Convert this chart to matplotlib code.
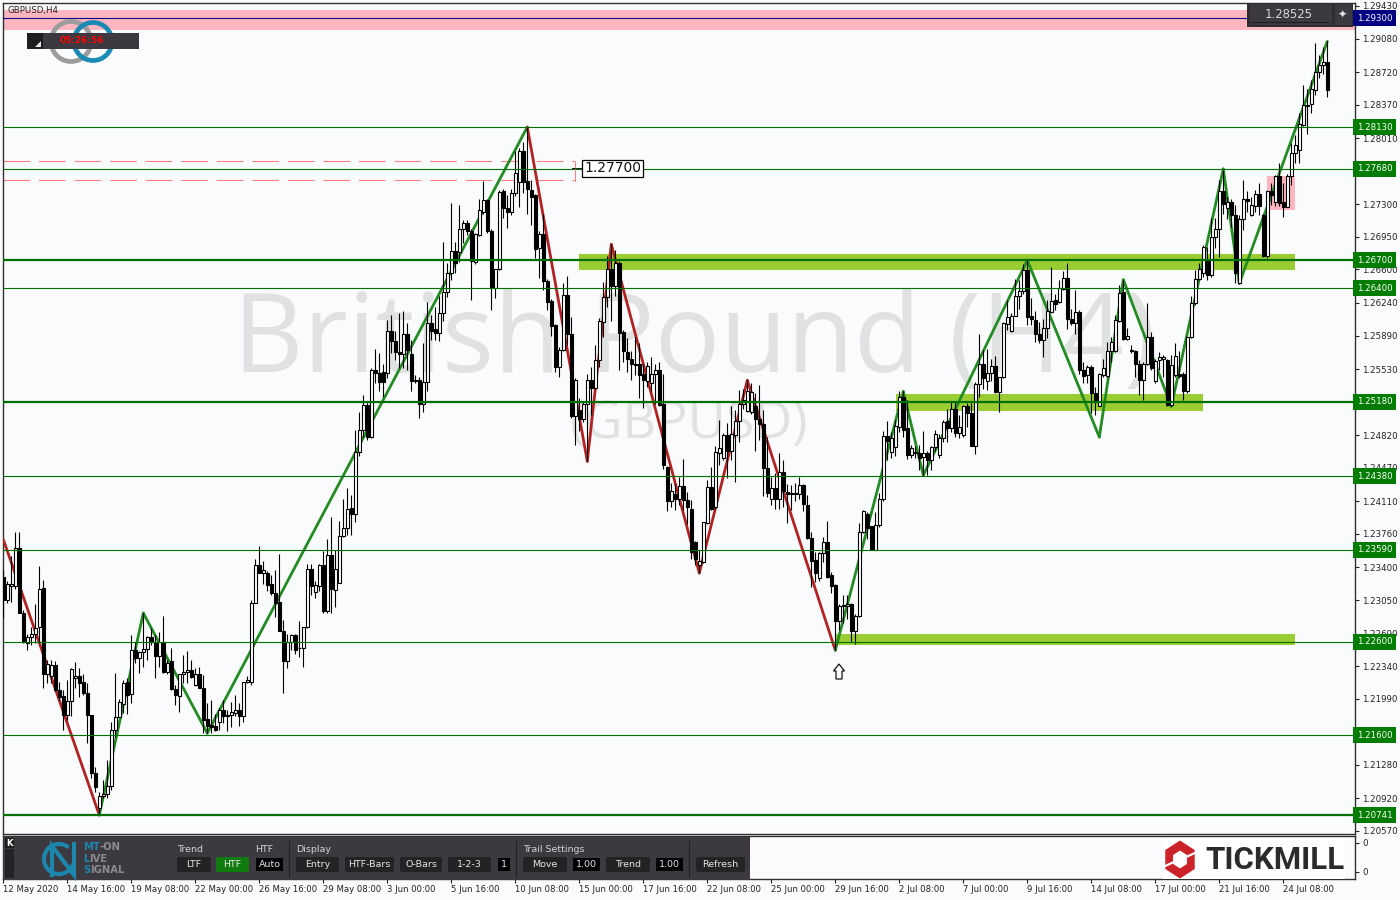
import matplotlib
matplotlib.use("Agg")
import matplotlib.pyplot as plt
from matplotlib.patches import Rectangle, FancyBboxPatch, Polygon, Arc
import numpy as np

# GBPUSD H4 candles
opens = [
    1.2330,1.2305,1.2320,1.2320,1.2361,1.2291,1.2259,1.2265,1.2269,1.2276,
    1.2318,1.2226,1.2223,1.2235,1.2208,1.2202,1.2182,1.2197,1.2221,1.2223,
    1.2217,1.2205,1.2181,1.2119,1.2082,1.2094,1.2097,1.2105,1.2165,1.2179,
    1.2193,1.2217,1.2204,1.2251,1.2243,1.2249,1.2252,1.2265,1.2260,1.2245,
    1.2259,1.2228,1.2239,1.2209,1.2202,1.2226,1.2228,1.2230,1.2214,1.2226,
    1.2211,1.2177,1.2171,1.2170,1.2174,1.2187,1.2180,1.2182,1.2184,1.2187,
    1.2180,1.2217,1.2217,1.2302,1.2343,1.2334,1.2334,1.2322,1.2312,1.2303,
    1.2272,1.2239,1.2260,1.2267,1.2254,1.2254,1.2276,1.2338,1.2314,1.2320,
    1.2343,1.2293,1.2353,1.2316,1.2323,1.2374,1.2382,1.2404,1.2397,1.2464,
    1.2488,1.2514,1.2480,1.2552,1.2549,1.2550,1.2549,1.2594,1.2583,1.2571,
    1.2569,1.2591,1.2569,1.2540,1.2541,1.2516,1.2539,1.2602,1.2596,1.2592,
    1.2613,1.2636,1.2656,1.2680,1.2679,1.2703,1.2710,1.2701,1.2668,1.2697,
    1.2722,1.2735,1.2701,1.2640,1.2660,1.2744,1.2726,1.2722,1.2742,1.2754,
    1.2787,1.2755,1.2745,1.2740,1.2683,1.2698,1.2648,1.2626,1.2600,1.2555,
    1.2573,1.2633,1.2591,1.2503,1.2509,1.2499,1.2516,1.2541,1.2533,1.2563,
    1.2604,1.2630,1.2661,1.2642,1.2667,1.2593,1.2571,1.2564,1.2558,1.2558,
    1.2548,1.2540,1.2538,1.2548,1.2552,1.2515,1.2448,1.2411,1.2419,1.2413,
    1.2427,1.2412,1.2403,1.2367,1.2343,1.2346,1.2388,1.2426,1.2405,1.2463,
    1.2458,1.2482,1.2465,1.2482,1.2497,1.2516,1.2508,1.2507,1.2513,1.2499,
    1.2494,1.2447,1.2414,1.2425,1.2414,1.2443,1.2421,1.2420,1.2420,1.2419,
    1.2429,1.2407,1.2372,1.2348,1.2329,1.2355,1.2367,1.2332,1.2321,1.2282,
    1.2299,1.2299,1.2301,1.2272,1.2288,1.2378,1.2397,1.2384,1.2359,1.2386,
    1.2414,1.2481,1.2464,1.2469,1.2491,1.2523,1.2490,1.2461,1.2464,1.2463,
    1.2459,1.2463,1.2455,1.2469,1.2461,1.2479,1.2497,1.2490,1.2510,1.2484,
    1.2482,1.2513,1.2506,1.2470,1.2537,1.2559,1.2540,1.2549,1.2556,1.2528,
    1.2544,1.2601,1.2594,1.2610,1.2631,1.2637,1.2659,1.2610,1.2606,1.2591,
    1.2584,1.2597,1.2614,1.2627,1.2625,1.2639,1.2651,1.2607,1.2602,1.2614,
    1.2552,1.2547,1.2555,1.2527,1.2513,1.2547,1.2546,1.2572,1.2572,1.2605,
    1.2636,1.2585,1.2573,1.2572,1.2558,1.2541,1.2559,1.2587,1.2540,1.2563,
    1.2564,1.2563,1.2514,1.2547,1.2548,1.2548,1.2530,1.2587,1.2624,1.2650,
    1.2656,1.2670,1.2654,1.2695,1.2704,1.2744,1.2726,1.2733,1.2719,1.2646,
    1.2714,1.2736,1.2719,1.2728,1.2741,1.2719,1.2674,1.2744,1.2732,1.2760,
    1.2733,1.2727,1.2760,1.2785,1.2788,1.2815,1.2837,1.2838,1.2853,1.2872,1.2880,1.2883,
]
closes = [
    1.2305,1.2322,1.2322,1.2361,1.2291,1.2260,1.2265,1.2269,1.2275,1.2317,
    1.2226,1.2236,1.2235,1.2208,1.2201,1.2181,1.2197,1.2231,1.2223,1.2216,
    1.2205,1.2181,1.2119,1.2104,1.2094,1.2097,1.2105,1.2165,1.2179,1.2195,
    1.2216,1.2203,1.2251,1.2243,1.2249,1.2252,1.2265,1.2260,1.2245,1.2260,
    1.2228,1.2237,1.2209,1.2203,1.2226,1.2228,1.2230,1.2222,1.2226,1.2211,
    1.2176,1.2170,1.2169,1.2165,1.2187,1.2180,1.2182,1.2185,1.2187,1.2180,
    1.2217,1.2219,1.2302,1.2343,1.2334,1.2337,1.2321,1.2312,1.2302,1.2272,
    1.2239,1.2260,1.2267,1.2251,1.2253,1.2276,1.2338,1.2320,1.2321,1.2343,
    1.2293,1.2353,1.2317,1.2338,1.2374,1.2382,1.2403,1.2397,1.2464,1.2488,
    1.2514,1.2480,1.2552,1.2549,1.2539,1.2539,1.2594,1.2583,1.2571,1.2569,
    1.2591,1.2574,1.2540,1.2541,1.2516,1.2539,1.2602,1.2594,1.2592,1.2613,
    1.2636,1.2656,1.2680,1.2667,1.2703,1.2710,1.2701,1.2669,1.2698,1.2724,
    1.2735,1.2701,1.2640,1.2661,1.2743,1.2726,1.2722,1.2742,1.2764,1.2787,
    1.2754,1.2746,1.2738,1.2682,1.2698,1.2648,1.2625,1.2599,1.2555,1.2574,
    1.2633,1.2591,1.2503,1.2541,1.2499,1.2516,1.2541,1.2533,1.2563,1.2605,
    1.2630,1.2661,1.2642,1.2667,1.2592,1.2572,1.2564,1.2558,1.2557,1.2547,
    1.2541,1.2556,1.2548,1.2552,1.2514,1.2450,1.2411,1.2422,1.2413,1.2427,
    1.2412,1.2405,1.2357,1.2349,1.2347,1.2389,1.2426,1.2403,1.2464,1.2468,
    1.2482,1.2465,1.2483,1.2497,1.2516,1.2520,1.2529,1.2528,1.2499,1.2494,
    1.2447,1.2420,1.2425,1.2414,1.2443,1.2422,1.2419,1.2419,1.2419,1.2429,
    1.2408,1.2372,1.2347,1.2334,1.2355,1.2367,1.2330,1.2320,1.2282,1.2299,
    1.2300,1.2301,1.2272,1.2288,1.2378,1.2401,1.2382,1.2359,1.2386,1.2413,
    1.2481,1.2476,1.2479,1.2492,1.2523,1.2488,1.2461,1.2468,1.2463,1.2458,
    1.2463,1.2455,1.2469,1.2483,1.2479,1.2496,1.2490,1.2510,1.2484,1.2491,
    1.2513,1.2506,1.2470,1.2537,1.2559,1.2543,1.2549,1.2556,1.2528,1.2544,
    1.2602,1.2609,1.2610,1.2631,1.2637,1.2659,1.2609,1.2607,1.2591,1.2584,
    1.2597,1.2615,1.2626,1.2623,1.2640,1.2651,1.2607,1.2603,1.2614,1.2552,
    1.2546,1.2555,1.2527,1.2518,1.2548,1.2554,1.2572,1.2582,1.2606,1.2635,
    1.2585,1.2589,1.2572,1.2558,1.2541,1.2559,1.2587,1.2554,1.2562,1.2566,
    1.2566,1.2514,1.2557,1.2567,1.2546,1.2529,1.2587,1.2624,1.2650,1.2661,
    1.2684,1.2654,1.2695,1.2704,1.2744,1.2730,1.2733,1.2719,1.2656,1.2714,
    1.2736,1.2734,1.2729,1.2741,1.2728,1.2674,1.2744,1.2740,1.2760,1.2731,
    1.2727,1.2760,1.2785,1.2794,1.2816,1.2837,1.2836,1.2854,1.2872,1.2880,1.2883,1.2853,
]
highs = [
    1.2337,1.2325,1.2352,1.2378,1.2378,1.2294,1.2269,1.2276,1.2301,1.2341,
    1.2327,1.2241,1.2241,1.2239,1.2217,1.2208,1.2219,1.2232,1.2238,1.2232,
    1.2226,1.2216,1.2182,1.2126,1.2099,1.2112,1.2133,1.2174,1.2227,1.2199,
    1.2219,1.2221,1.2267,1.2260,1.2250,1.2291,1.2266,1.2275,1.2267,1.2271,
    1.2288,1.2241,1.2253,1.2214,1.2226,1.2246,1.2250,1.2241,1.2232,1.2233,
    1.2225,1.2194,1.2198,1.2183,1.2189,1.2198,1.2187,1.2196,1.2203,1.2194,
    1.2217,1.2223,1.2305,1.2349,1.2363,1.2347,1.2336,1.2332,1.2337,1.2354,
    1.2284,1.2269,1.2269,1.2269,1.2282,1.2276,1.2344,1.2344,1.2325,1.2344,
    1.2358,1.2370,1.2394,1.2359,1.2390,1.2414,1.2425,1.2418,1.2488,1.2507,
    1.2525,1.2518,1.2554,1.2575,1.2570,1.2558,1.2606,1.2611,1.2594,1.2613,
    1.2615,1.2602,1.2584,1.2547,1.2545,1.2581,1.2625,1.2611,1.2620,1.2631,
    1.2690,1.2667,1.2731,1.2690,1.2729,1.2713,1.2713,1.2704,1.2699,1.2736,
    1.2755,1.2736,1.2703,1.2661,1.2745,1.2746,1.2740,1.2746,1.2787,1.2790,
    1.2797,1.2813,1.2756,1.2741,1.2701,1.2720,1.2650,1.2628,1.2601,1.2577,
    1.2645,1.2653,1.2609,1.2543,1.2522,1.2518,1.2548,1.2555,1.2579,1.2608,
    1.2647,1.2674,1.2687,1.2681,1.2669,1.2595,1.2586,1.2572,1.2588,1.2581,
    1.2559,1.2561,1.2566,1.2559,1.2561,1.2548,1.2449,1.2431,1.2430,1.2437,
    1.2456,1.2421,1.2412,1.2368,1.2359,1.2389,1.2434,1.2448,1.2470,1.2498,
    1.2484,1.2495,1.2513,1.2509,1.2531,1.2532,1.2541,1.2538,1.2527,1.2536,
    1.2509,1.2480,1.2437,1.2441,1.2463,1.2455,1.2430,1.2428,1.2431,1.2437,
    1.2430,1.2418,1.2378,1.2357,1.2357,1.2373,1.2390,1.2335,1.2322,1.2301,
    1.2310,1.2310,1.2302,1.2290,1.2388,1.2402,1.2400,1.2385,1.2400,1.2420,
    1.2487,1.2497,1.2485,1.2498,1.2530,1.2529,1.2520,1.2471,1.2470,1.2471,
    1.2487,1.2465,1.2470,1.2488,1.2483,1.2498,1.2510,1.2518,1.2518,1.2504,
    1.2514,1.2517,1.2517,1.2539,1.2591,1.2574,1.2575,1.2564,1.2567,1.2545,
    1.2604,1.2627,1.2613,1.2650,1.2649,1.2666,1.2670,1.2629,1.2615,1.2604,
    1.2607,1.2627,1.2663,1.2634,1.2649,1.2658,1.2667,1.2618,1.2638,1.2617,
    1.2561,1.2557,1.2557,1.2534,1.2549,1.2564,1.2582,1.2588,1.2611,1.2643,
    1.2649,1.2597,1.2579,1.2573,1.2563,1.2561,1.2624,1.2593,1.2564,1.2571,
    1.2568,1.2564,1.2568,1.2581,1.2572,1.2550,1.2588,1.2631,1.2659,1.2667,
    1.2686,1.2684,1.2715,1.2715,1.2756,1.2767,1.2738,1.2736,1.2729,1.2719,
    1.2756,1.2744,1.2738,1.2745,1.2753,1.2720,1.2745,1.2753,1.2762,1.2774,
    1.2753,1.2763,1.2796,1.2804,1.2828,1.2858,1.2854,1.2864,1.2903,1.2890,1.2899,1.2905,
]
lows = [
    1.2286,1.2302,1.2303,1.2317,1.2291,1.2259,1.2251,1.2257,1.2259,1.2259,
    1.2210,1.2216,1.2216,1.2207,1.2198,1.2165,1.2176,1.2180,1.2210,1.2201,
    1.2203,1.2151,1.2114,1.2099,1.2074,1.2092,1.2092,1.2101,1.2158,1.2180,
    1.2184,1.2183,1.2194,1.2237,1.2227,1.2233,1.2241,1.2257,1.2221,1.2233,
    1.2227,1.2226,1.2208,1.2192,1.2185,1.2216,1.2216,1.2221,1.2213,1.2211,
    1.2162,1.2162,1.2162,1.2164,1.2165,1.2173,1.2164,1.2169,1.2180,1.2170,
    1.2174,1.2216,1.2214,1.2302,1.2334,1.2322,1.2315,1.2310,1.2287,1.2272,
    1.2205,1.2232,1.2251,1.2247,1.2244,1.2233,1.2275,1.2310,1.2307,1.2315,
    1.2291,1.2291,1.2291,1.2297,1.2323,1.2373,1.2375,1.2375,1.2389,1.2460,
    1.2480,1.2477,1.2479,1.2538,1.2529,1.2523,1.2543,1.2570,1.2563,1.2554,
    1.2554,1.2552,1.2529,1.2538,1.2500,1.2507,1.2529,1.2584,1.2584,1.2583,
    1.2605,1.2630,1.2649,1.2656,1.2668,1.2688,1.2697,1.2627,1.2666,1.2696,
    1.2720,1.2699,1.2617,1.2629,1.2659,1.2715,1.2705,1.2719,1.2739,1.2727,
    1.2742,1.2720,1.2708,1.2672,1.2651,1.2638,1.2617,1.2589,1.2550,1.2545,
    1.2572,1.2579,1.2501,1.2472,1.2486,1.2496,1.2454,1.2504,1.2532,1.2555,
    1.2588,1.2620,1.2605,1.2631,1.2552,1.2561,1.2550,1.2541,1.2547,1.2522,
    1.2511,1.2534,1.2530,1.2516,1.2513,1.2446,1.2401,1.2405,1.2402,1.2407,
    1.2402,1.2387,1.2349,1.2343,1.2334,1.2345,1.2387,1.2402,1.2403,1.2450,
    1.2455,1.2436,1.2455,1.2432,1.2475,1.2510,1.2507,1.2505,1.2465,1.2477,
    1.2417,1.2416,1.2407,1.2403,1.2403,1.2405,1.2388,1.2402,1.2411,1.2414,
    1.2401,1.2371,1.2319,1.2324,1.2325,1.2346,1.2329,1.2312,1.2251,1.2273,
    1.2280,1.2285,1.2260,1.2258,1.2287,1.2377,1.2371,1.2359,1.2359,1.2383,
    1.2411,1.2455,1.2458,1.2460,1.2485,1.2480,1.2456,1.2457,1.2457,1.2445,
    1.2439,1.2439,1.2445,1.2465,1.2457,1.2475,1.2475,1.2485,1.2480,1.2479,
    1.2480,1.2491,1.2470,1.2462,1.2523,1.2532,1.2531,1.2540,1.2527,1.2507,
    1.2543,1.2595,1.2593,1.2610,1.2618,1.2634,1.2600,1.2600,1.2582,1.2581,
    1.2566,1.2586,1.2613,1.2616,1.2624,1.2638,1.2596,1.2600,1.2591,1.2548,
    1.2538,1.2538,1.2506,1.2504,1.2513,1.2545,1.2545,1.2561,1.2571,1.2604,
    1.2584,1.2584,1.2570,1.2545,1.2525,1.2520,1.2557,1.2552,1.2538,1.2552,
    1.2545,1.2513,1.2513,1.2545,1.2543,1.2520,1.2527,1.2586,1.2622,1.2649,
    1.2652,1.2649,1.2652,1.2683,1.2673,1.2720,1.2714,1.2706,1.2646,1.2645,
    1.2702,1.2722,1.2717,1.2722,1.2718,1.2673,1.2672,1.2729,1.2728,1.2728,
    1.2716,1.2727,1.2751,1.2774,1.2774,1.2814,1.2806,1.2828,1.2847,1.2866,1.2870,1.2845,
]

# swing line through the pivots
pivot_bars = [0, 24, 35, 51, 131, 146, 152, 174, 186, 208, 225, 230, 256, 274, 280, 292, 305, 309, 331]
pivot_prices = [1.2370, 1.2074, 1.2291, 1.2162, 1.2813, 1.2454, 1.2687, 1.2334, 1.2541, 1.2251,
                1.2529, 1.2439, 1.2670, 1.2480, 1.2649, 1.2513, 1.2768, 1.2645, 1.2905]
pivot_down = [1, 0, 0, 0, 1, 1, 1, 1, 1, 0, 0, 0, 0, 0, 0, 0, 0, 0]

thin_levels = [1.28130, 1.27680, 1.26400, 1.24380, 1.23590, 1.22600, 1.21600]
thick_levels = [1.26700, 1.25180, 1.20741]
tick_prices = [1.29430, 1.29080, 1.28720, 1.28370, 1.28010, 1.27300, 1.26950, 1.26600, 1.26240,
               1.25890, 1.25530, 1.24820, 1.24470, 1.24110, 1.23760, 1.23400, 1.23050, 1.22690,
               1.22340, 1.21990, 1.21280, 1.20920, 1.20570]
time_labels = ["12 May 2020", "14 May 16:00", "19 May 08:00", "22 May 00:00", "26 May 16:00", "29 May 08:00",
               "3 Jun 00:00", "5 Jun 16:00", "10 Jun 08:00", "15 Jun 00:00", "17 Jun 16:00", "22 Jun 08:00",
               "25 Jun 00:00", "29 Jun 16:00", "2 Jul 08:00", "7 Jul 00:00", "9 Jul 16:00", "14 Jul 08:00",
               "17 Jul 00:00", "21 Jul 16:00", "24 Jul 08:00"]
bars_per_label = 16

# (first bar, last bar, low, high)
green_zones = [(143.9, 322.9, 1.26595, 1.26766), (223.2, 300.0, 1.25080, 1.25263), (208.0, 322.9, 1.22567, 1.22685)]
pink_zone = (316.0, 322.9, 1.27239, 1.27604)
resistance_band = (1.29172, 1.29387)
dash_levels = [1.27760, 1.27556]

BG = "#f9fbfd"
PANEL = "#3c3a40"
BTN = "#232325"
FONT = "DejaVu Sans"

opens = np.array(opens)
closes = np.array(closes)
highs = np.array(highs)
lows = np.array(lows)
bars = np.arange(len(opens))

fig = plt.figure(figsize=(14, 9), dpi=100, facecolor=BG)


def box(left, top, right, bottom):
    return [left / 1400, 1 - bottom / 900, (right - left) / 1400, (bottom - top) / 900]


ax = fig.add_axes(box(3, 3, 1355, 834), facecolor=BG)
ax.set_xlim(-0.075, 337.925)
ax.set_ylim(1.20537, 1.29462)

# watermark
ax.text(0.5118, 0.59, "British Pound (H4)", family="Open Sans", fontsize=78.5, color="#e0e2e2",
        ha="center", va="center", zorder=0.5, transform=ax.transAxes)
ax.text(0.5074, 0.4925, "(GBPUSD)", family="Open Sans", fontsize=37.5, color="#e0e2e2",
        ha="center", va="center", zorder=0.5, transform=ax.transAxes)

# zones
ax.axhspan(resistance_band[0], resistance_band[1], color="#ffb6c1", lw=0, zorder=1)
for x0, x1, lo, hi in green_zones:
    ax.add_patch(Rectangle((x0, lo), x1 - x0, hi - lo, fc="#9acd32", ec="none", zorder=1))
ax.add_patch(Rectangle((pink_zone[0], pink_zone[2]), pink_zone[1] - pink_zone[0], pink_zone[3] - pink_zone[2],
                       fc="#ffb6c1", ec="none", zorder=1))

# dashed stop lines
for p in dash_levels:
    ax.plot([-0.075, 143], [p, p], color="#ff8080", lw=0.8, dashes=(24, 8), dash_capstyle="butt", zorder=2)

# swing line
for i, down in enumerate(pivot_down):
    ax.plot(pivot_bars[i:i + 2], pivot_prices[i:i + 2], color="#b22222" if down else "#228b22",
            lw=2.0, solid_capstyle="round", zorder=3)

# candles
ax.vlines(bars, lows, highs, colors="black", lw=0.8, zorder=4)
up = closes >= opens
ax.bar(bars[up], closes[up] - opens[up], bottom=opens[up], width=0.62, fc="white", ec="black",
       lw=0.8, zorder=5)
ax.bar(bars[~up], opens[~up] - closes[~up], bottom=closes[~up], width=0.62, fc="black", ec="black",
       lw=0.8, zorder=5)

# horizontal levels on top of the candles
for p in thin_levels:
    ax.axhline(p, color="#007000", lw=0.8, zorder=6)
for p in thick_levels:
    ax.axhline(p, color="#007000", lw=1.6, zorder=6)
ax.axhline(1.29300, color="#000080", lw=0.8, zorder=6)

# price axis
ax.yaxis.tick_right()
ax.set_yticks(tick_prices)
ax.set_yticklabels(["%.5f" % p for p in tick_prices], fontsize=6.2, family=FONT, color="#222222")
ax.tick_params(axis="y", length=3, width=0.8, pad=2, color="#222222")
ax.set_xticks([])
for s in ax.spines.values():
    s.set_linewidth(1.0)
    s.set_color("#303030")


def price_tag(p, fc):
    ax.text(1.0013, p, "%.5f" % p, transform=ax.get_yaxis_transform(), fontsize=6.2, family=FONT,
            color="white", va="center", ha="left", zorder=10, clip_on=False,
            bbox=dict(boxstyle="square,pad=0.4", fc=fc, ec="none"))


for p in thin_levels + thick_levels:
    price_tag(p, "#007c00")
price_tag(1.29300, "#000080")

# lower indicator window
sub = fig.add_axes(box(3, 836, 1355, 879), facecolor=BG)
sub.set_xlim(-0.075, 337.925)
sub.set_ylim(0, 1)
tick_bars = np.arange(len(time_labels)) * bars_per_label
sub.set_xticks(tick_bars)
sub.set_xticklabels(time_labels, fontsize=6.1, family=FONT, color="#222222", ha="left")
sub.yaxis.tick_right()
sub.set_yticks([0.17, 0.84])
sub.set_yticklabels(["0", "0"], fontsize=6.2, family=FONT, color="#222222")
sub.tick_params(axis="x", length=3, width=0.8, pad=1.5, color="#222222")
sub.tick_params(axis="y", length=3, width=0.8, pad=2, color="#222222")
for s in sub.spines.values():
    s.set_linewidth(1.0)
    s.set_color("#303030")

# overlay in screen pixels for the terminal widgets
ov = fig.add_axes([0, 0, 1, 1], facecolor="none", zorder=20)
ov.set_xlim(0, 1400)
ov.set_ylim(900, 0)
ov.axis("off")

ov.text(7, 10.5, "GBPUSD,H4", fontsize=6.2, family=FONT, color="#222222", va="center")

# rings behind the clock
for cx, r, col in ((71, 20, "#9c9c9c"), (93, 19, "#1a8ab5")):
    ov.add_patch(Arc((cx, 41.5), 2 * r, 2 * r, lw=3.4, color=col))
ov.add_patch(Arc((87, 41.5), 12, 12, lw=2.5, color="#a8a8a8"))
ov.add_patch(Rectangle((27, 33), 112, 16, fc=PANEL, ec="none"))
ov.add_patch(Rectangle((27, 33), 16, 16, fc="#1e1e1e", ec="none"))
ov.add_patch(Polygon([[35, 47], [41, 47], [41, 41]], fc="#e6e6e6", ec="none"))
ov.text(82, 40.5, "05:26:56", fontsize=6.5, family=FONT, color="#ff0000", weight="bold", ha="center", va="center")

# price box top right
ov.add_patch(Rectangle((1247, 3), 106, 24, fc="#2e2d31", ec="none"))
ov.add_patch(Rectangle((1250, 4), 82, 21, fc=PANEL, ec="none"))
ov.add_patch(Rectangle((1335, 4), 17, 21, fc=PANEL, ec="none"))
ov.plot([1251, 1329], [22, 22], color="#1e1e1e", lw=0.8)
ov.text(1289, 14.5, "1.28525", fontsize=8.4, family=FONT, color="#d8d8d8", ha="center", va="center")
ov.text(1342, 14.5, "\u2726", fontsize=8, family=FONT, color="#e6e6e6", ha="center", va="center")

# crosshair label
ov.plot([575, 575], [162, 181], color="#ff8080", lw=0.72)
ov.plot([572, 583], [168, 168], color="#222222", lw=0.72)
ov.text(612.5, 168.5, "1.27700", fontsize=10, family=FONT, color="#111111", ha="center", va="center",
        bbox=dict(boxstyle="square,pad=0.12", fc="white", ec="black", lw=0.9))

# hollow signal arrow
ov.add_patch(Polygon([[839, 664], [844.5, 671], [842, 671], [842, 679], [836, 679], [836, 671], [833.5, 671]],
                     fc="white", ec="#111111", lw=0.9))

# control panel
ov.add_patch(Rectangle((3, 837), 747, 42.5, fc=PANEL, ec="none"))
ov.add_patch(Rectangle((5, 838), 9, 10, fc="#1f1f21", ec="none"))
ov.add_patch(Rectangle((5, 849), 9, 29, fc="#232325", ec="none"))
ov.text(9.5, 843, "K", fontsize=6.2, family=FONT, color="white", weight="bold", ha="center", va="center")

# panel emblem
blue = "#1d86ad"
ov.add_patch(Arc((59, 859), 30, 30, theta1=20, theta2=310, lw=3, color=blue))
ov.plot([52, 52, 74, 74], [875, 846, 875, 844], color=blue, lw=3, solid_joinstyle="miter")
gray = "#8b8b8f"
for y, head, rest in ((847, "MT", "-ON"), (859, "L", "IVE"), (870, "S", "IGNAL")):
    t = ov.text(83, y, head, fontsize=7.2, family=FONT, color=blue, weight="bold", va="center")
    fig.canvas.draw()
    bb = t.get_window_extent()
    ov.text(83 + bb.width, y, rest, fontsize=7.2, family=FONT, color=gray, weight="bold", va="center")

labels = [(177, "Trend"), (255, "HTF"), (296, "Display"), (523, "Trail Settings")]
for x, s in labels:
    ov.text(x, 849.5, s, fontsize=6.8, family=FONT, color="#d2d2d2", va="center")

buttons = [(177, 211, "LTF", BTN), (216, 249, "HTF", "#107c10"), (256, 283, "Auto", "#000000"),
           (296, 339, "Entry", BTN), (345, 394, "HTF-Bars", BTN), (400, 442, "O-Bars", BTN),
           (448, 491, "1-2-3", BTN), (498, 510, "1", "#000000"), (523, 567, "Move", BTN),
           (573, 600, "1.00", "#000000"), (606, 650, "Trend", BTN), (656, 683, "1.00", "#000000"),
           (696, 745, "Refresh", BTN)]
for x0, x1, s, col in buttons:
    if col == BTN or col == "#107c10":
        ov.add_patch(FancyBboxPatch((x0 + 2, 859), x1 - x0 - 4, 11, boxstyle="round,pad=2", fc=col, ec="none"))
    else:
        ov.add_patch(Rectangle((x0, 858), x1 - x0, 13, fc=col, ec="none"))
    ov.text((x0 + x1) / 2, 864.5, s, fontsize=6.8, family=FONT, color="#e4e4e4", ha="center", va="center")
for x in (289, 516, 689):
    ov.plot([x, x], [841, 877], color="#222224", lw=0.8)

# broker logo
ov.add_patch(Rectangle((1163, 838), 182, 41, fc="white", ec="none"))
cx, cy = 1180, 859.5
ang = np.deg2rad(np.arange(90, 450, 60))
ov.add_patch(Polygon(np.c_[cx + 17 * np.cos(ang), cy + 19 * np.sin(ang)], fc="#cc2229", ec="none"))
ov.add_patch(Polygon(np.c_[cx + 8 * np.cos(ang), cy + 9 * np.sin(ang)], fc="white", ec="none"))
ov.plot([1163, 1176], [867, 861], color="white", lw=1.6)
ov.plot([1184, 1197], [858, 852], color="white", lw=1.6)
ov.text(1205, 860, "TICKMILL", family="Roboto", weight="bold", fontsize=22.5, color="#2b2b2b", va="center")

fig.savefig("out.png", dpi=100, facecolor=BG)
